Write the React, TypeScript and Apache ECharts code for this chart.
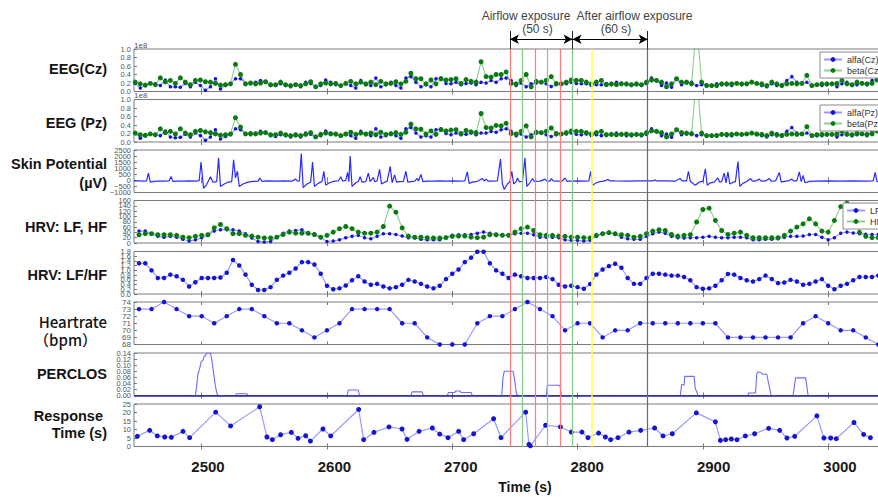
import React, { useEffect, useRef } from "react";
import * as echarts from "echarts";

// ---------- axis range ----------
const X_MIN = 2446;
const X_MAX = 3052;
const X_TICKS = [2500, 2600, 2700, 2800, 2900, 3000];

// ---------- EEG (sampled every 4 s from 2447 s) ----------
const EEG_T0 = 2447;
const EEG_DT = 4;
const czAlfa = [
  0.19, 0.08, 0.14, 0.19, 0.18, 0.14, 0.27, 0.11, 0.11, 0.1,
  0.19, 0.11, 0.22, 0.14, 0.03, 0.11, 0.3, 0.06, 0.14, 0.18,
  0.3, 0.3, 0.19, 0.18, 0.22, 0.26, 0.22, 0.14, 0.14, 0.18,
  0.14, 0.11, 0.16, 0.11, 0.22, 0.19, 0.11, 0.14, 0.27, 0.22,
  0.16, 0.14, 0.18, 0.14, 0.08, 0.26, 0.16, 0.14, 0.32, 0.11,
  0.16, 0.22, 0.14, 0.08, 0.32, 0.35, 0.22, 0.11, 0.16, 0.11,
  0.3, 0.32,
  0.19, 0.18, 0.22, 0.16, 0.19, 0.2, 0.16, 0.22, 0.2, 0.26,
  0.22, 0.3, 0.32, 0.26, 0.14, 0.2, 0.11, 0.18, 0.2, 0.22,
  0.18, 0.12, 0.16, 0.19, 0.18, 0.22, 0.19, 0.18, 0.18, 0.14,
  0.16, 0.16, 0.19, 0.16, 0.22, 0.2, 0.16, 0.14, 0.16, 0.14,
  0.19, 0.32, 0.26, 0.14, 0.2, 0.1, 0.3, 0.16, 0.2, 0.22,
  0.14, 0.16, 0.16, 0.14, 0.18, 0.16, 0.16, 0.14, 0.2, 0.16,
  0.19, 0.22, 0.18, 0.14, 0.11, 0.18, 0.14, 0.16, 0.26, 0.35,
  0.22, 0.19, 0.22, 0.14, 0.16, 0.14, 0.16, 0.19, 0.11, 0.18,
  0.22, 0.14, 0.16, 0.2, 0.16, 0.26, 0.3, 0.22, 0.18,
];
const czBeta = [
  0.22, 0.18, 0.15, 0.19, 0.16, 0.32, 0.23, 0.26, 0.19, 0.32,
  0.22, 0.16, 0.26, 0.27, 0.23, 0.22, 0.19, 0.15, 0.16, 0.18,
  0.64, 0.4, 0.18, 0.2, 0.18, 0.2, 0.23, 0.16, 0.16, 0.22,
  0.16, 0.14, 0.16, 0.14, 0.18, 0.23, 0.11, 0.18, 0.2, 0.18,
  0.19, 0.14, 0.19, 0.24, 0.18, 0.22, 0.18, 0.22, 0.16, 0.24,
  0.18, 0.19, 0.23, 0.18, 0.24, 0.43, 0.3, 0.3, 0.18, 0.27,
  0.18, 0.3,
  0.27, 0.28, 0.3, 0.19, 0.28, 0.24, 0.22, 0.7, 0.35, 0.34,
  0.4, 0.4, 0.46, 0.19, 0.18, 0.26, 0.4, 0.11, 0.24, 0.22,
  0.26, 0.35, 0.19, 0.18, 0.22, 0.27, 0.26, 0.26, 0.22, 0.18,
  0.22, 0.26, 0.16, 0.18, 0.16, 0.18, 0.18, 0.16, 0.18, 0.16,
  0.22, 0.27, 0.26, 0.22, 0.11, 0.18, 0.3, 0.22, 0.22, 0.18,
  1.6, 0.22, 0.14, 0.14, 0.14, 0.18, 0.18, 0.18, 0.19, 0.18,
  0.18, 0.22, 0.19, 0.18, 0.14, 0.22, 0.18, 0.14, 0.18, 0.19,
  0.18, 0.19, 0.38, 0.14, 0.16, 0.18, 0.18, 0.18, 0.19, 0.26,
  0.18, 0.16, 0.22, 0.19, 0.18, 0.19, 0.27, 0.2, 0.18,
];
const pzAlfa = [
  0.2, 0.09, 0.14, 0.18, 0.17, 0.15, 0.26, 0.12, 0.1, 0.11,
  0.18, 0.12, 0.21, 0.15, 0.04, 0.12, 0.29, 0.07, 0.13, 0.17,
  0.31, 0.29, 0.2, 0.17, 0.21, 0.25, 0.23, 0.15, 0.13, 0.17,
  0.15, 0.12, 0.15, 0.12, 0.21, 0.18, 0.12, 0.15, 0.26, 0.21,
  0.17, 0.15, 0.17, 0.15, 0.09, 0.25, 0.17, 0.15, 0.31, 0.12,
  0.15, 0.21, 0.15, 0.09, 0.31, 0.34, 0.21, 0.12, 0.15, 0.12,
  0.29, 0.31,
  0.2, 0.17, 0.21, 0.17, 0.18, 0.21, 0.17, 0.21, 0.21, 0.25,
  0.23, 0.29, 0.31, 0.25, 0.15, 0.19, 0.12, 0.17, 0.21, 0.21,
  0.17, 0.13, 0.17, 0.18, 0.19, 0.21, 0.18, 0.17, 0.19, 0.15,
  0.17, 0.15, 0.18, 0.17, 0.21, 0.19, 0.15, 0.15, 0.17, 0.15,
  0.18, 0.31, 0.25, 0.15, 0.19, 0.11, 0.29, 0.17, 0.19, 0.21,
  0.15, 0.17, 0.15, 0.15, 0.17, 0.17, 0.15, 0.15, 0.19, 0.17,
  0.18, 0.21, 0.17, 0.15, 0.12, 0.17, 0.15, 0.17, 0.25, 0.34,
  0.21, 0.18, 0.21, 0.15, 0.15, 0.15, 0.17, 0.18, 0.12, 0.17,
  0.21, 0.15, 0.17, 0.19, 0.15, 0.25, 0.29, 0.21, 0.17,
];
const pzBeta = [
  0.21, 0.17, 0.16, 0.19, 0.17, 0.31, 0.22, 0.25, 0.19, 0.31,
  0.21, 0.17, 0.25, 0.27, 0.24, 0.22, 0.19, 0.16, 0.17, 0.19,
  0.57, 0.35, 0.19, 0.2, 0.19, 0.21, 0.22, 0.17, 0.17, 0.21,
  0.17, 0.15, 0.17, 0.15, 0.18, 0.22, 0.12, 0.18, 0.21, 0.19,
  0.19, 0.15, 0.19, 0.23, 0.18, 0.21, 0.19, 0.21, 0.17, 0.23,
  0.18, 0.19, 0.22, 0.18, 0.23, 0.42, 0.31, 0.3, 0.19, 0.26,
  0.18, 0.29,
  0.26, 0.28, 0.29, 0.2, 0.27, 0.24, 0.22, 0.67, 0.34, 0.33,
  0.39, 0.38, 0.44, 0.2, 0.19, 0.25, 0.38, 0.12, 0.23, 0.22,
  0.25, 0.33, 0.2, 0.19, 0.22, 0.26, 0.25, 0.25, 0.22, 0.19,
  0.22, 0.25, 0.17, 0.18, 0.17, 0.18, 0.19, 0.17, 0.18, 0.17,
  0.22, 0.26, 0.25, 0.22, 0.12, 0.19, 0.29, 0.22, 0.21, 0.19,
  1.55, 0.21, 0.15, 0.15, 0.15, 0.18, 0.18, 0.18, 0.19, 0.18,
  0.19, 0.21, 0.19, 0.18, 0.15, 0.21, 0.18, 0.15, 0.18, 0.19,
  0.18, 0.19, 0.36, 0.15, 0.17, 0.18, 0.18, 0.18, 0.19, 0.25,
  0.18, 0.17, 0.21, 0.19, 0.18, 0.19, 0.26, 0.2, 0.18,
];

// ---------- Skin potential (µV) [time, value] ----------
const skinPotential: [number, number][] = [
  [2446, -50], [2450, -40], [2454, -60], [2456, -40], [2457.5, 600], [2459, -150], [2462, -80], [2466, -70],
  [2470, -60], [2474, -50], [2475.5, 320], [2477, -80], [2480, -60], [2485, -70], [2490, -50], [2495, -60],
  [2498, -30], [2499.5, 1500], [2501.5, -650], [2504, -350], [2507, 300], [2509, -150], [2512, -100],
  [2513.5, 1850], [2515, -500], [2518, -300], [2521, -150], [2524, -100], [2525.5, 1700], [2527, 200],
  [2528.5, 750], [2530, -500], [2533, -300], [2537, -150], [2541, -80], [2545, -60], [2546.5, 200],
  [2548, -80], [2550, -60], [2553, -50], [2560, -60], [2566, -50], [2572, -70], [2575, 100], [2576.5, -60],
  [2578, -50], [2579.5, 2200], [2581, -600], [2584, -300], [2587, -150], [2588.5, 1500], [2590, -500],
  [2593, -250], [2596, -100], [2597.5, 750], [2599, -400], [2602, -200], [2606, -60], [2609, -50],
  [2611, 300], [2612.5, -50], [2615, 0], [2616.5, 650], [2617.5, -100], [2618.5, 2000], [2620, -500],
  [2623, -200], [2625, -100], [2626.5, 300], [2628, -150], [2631, -100], [2633, 600], [2634.5, -100],
  [2637, 250], [2638, -100], [2640, -50], [2642, 900], [2643.5, -300], [2646, -150], [2648, -80],
  [2650.5, 1150], [2652, -200], [2654, 450], [2655.5, -150], [2658, -100], [2661, -80], [2663, 750],
  [2664.5, -150], [2667, -100], [2670, -60], [2672, 150], [2673, -60], [2675, 480], [2676.5, -100],
  [2680, -60], [2685, -60], [2690, -50], [2695, -60], [2700, -50], [2705, -60], [2710, -50], [2712, 700],
  [2713.5, -250], [2716, -150], [2720, -80], [2724, 150], [2725.5, -50], [2727, 100], [2728.5, -60],
  [2732, -60], [2736, -50], [2738.5, 1750], [2740, -300], [2741.5, -750], [2744, -300], [2746, -100],
  [2747.5, 750], [2749, -300], [2751, -100], [2752, 200], [2753.5, -100], [2756, -80], [2758, 1850],
  [2759.5, -500], [2762, -200], [2764, 150], [2765.5, -80], [2770, -60], [2774, 100], [2775.5, -60],
  [2778, -60], [2779, 150], [2780.5, -50], [2784, -60], [2788, -50], [2790, 200], [2791.5, -80],
  [2795, -60], [2800, -50], [2805, -60], [2809, -40], [2810.5, 750], [2812, -400], [2815, -200],
  [2818, -100], [2822, -50], [2824, 80], [2826, -40], [2830, -50], [2840, -60], [2850, -50], [2860, -50],
  [2862, 40], [2863, -50], [2870, -50], [2878, -60], [2882, 150], [2883.5, -50], [2887, -40],
  [2888.5, 750], [2890, -100], [2894, -400], [2897, -150], [2900, -80], [2902, 950], [2903.5, -400],
  [2906, -200], [2909, -150], [2912, 200], [2913.5, -150], [2915, -100], [2917, 600], [2918.5, -200],
  [2920, 700], [2921.5, -300], [2924, -150], [2926, -100], [2928, 1550], [2929.5, -500], [2932, -250],
  [2935, -100], [2938, 150], [2939.5, -60], [2942, -60], [2945, 100], [2946.5, -60], [2950, -50],
  [2953, 150], [2954.5, -60], [2958, -50], [2961, 650], [2962.5, -150], [2965, -80], [2968, -50],
  [2971, 100], [2972.5, -50], [2975, -40], [2977, 700], [2978.5, -100], [2980, 400], [2981.5, -200],
  [2985, -80], [2990, -60], [3000, -50], [3010, -60], [3020, -50], [3030, -60], [3036, -40],
  [3037.5, 650], [3039, -100], [3045, -60], [3050, -50],
];

// ---------- HRV (every 5 s from 2450 s) ----------
const HRV_T0 = 2450;
const HRV_DT = 5;
const hrvLF = [
  45, 45, 35, 25, 22, 25, 22, 14, 7.5, 12,
  20, 29, 45, 50, 50, 50, 45, 35, 19, 6,
  4, 6, 22, 37, 45, 47, 50, 35, 31, 20,
  6, 7.5, 12, 20, 25, 29, 20, 16, 25, 35,
  35, 32, 26, 20, 19, 14, 12, 12, 12,
  22, 29, 31, 31, 32, 37, 41, 37, 32, 31,
  29, 35, 37, 37, 31, 22, 22, 22, 20, 12,
  10, 10, 7.5, 10, 25, 35, 39, 32, 22, 16,
  14, 14, 25, 35, 41, 37, 25, 20, 19, 20,
  20, 22, 25, 22, 20, 20, 22, 22, 20, 12,
  12, 14, 14, 16, 22, 25, 25, 26, 32, 32,
  22, 12, 20, 37, 41, 38, 35, 33, 32, 32,
  32,
];
const hrvHF = [
  31, 35, 35, 31, 31, 31, 29, 22, 20, 25,
  29, 31, 57, 70, 54, 35, 35, 29, 26, 22,
  19, 19, 22, 32, 41, 37, 37, 37, 32, 22,
  29, 41, 54, 62, 54, 41, 37, 37, 41, 62,
  139, 116, 57, 26, 22, 22, 20, 19, 19,
  20, 25, 26, 26, 22, 20, 22, 31, 31, 29,
  29, 41, 54, 60, 47, 31, 29, 29, 26, 25,
  22, 22, 20, 19, 29, 35, 39, 35, 31, 29,
  22, 25, 35, 45, 50, 47, 32, 26, 29, 31,
  79, 126, 131, 85, 47, 32, 37, 41, 29, 20,
  20, 20, 20, 20, 29, 45, 60, 72, 91, 72,
  45, 41, 85, 137, 150, 110, 40, 25, 20, 20,
  20,
];
const hrvRatio = [
  1.3, 1.3, 1.0, 0.68, 0.68, 0.82, 0.75, 0.6, 0.32, 0.5,
  0.68, 0.68, 0.68, 0.7, 0.9, 1.44, 1.21, 0.82, 0.39, 0.17,
  0.17, 0.29, 0.6, 0.78, 0.9, 1.08, 1.35, 1.35, 1.25, 0.86,
  0.35, 0.2, 0.24, 0.36, 0.58, 0.75, 0.53, 0.39, 0.43, 0.32,
  0.24, 0.29, 0.39, 0.6, 0.53, 0.43, 0.32, 0.24, 0.35,
  0.63, 0.86, 1.04, 1.35, 1.54, 1.79, 1.79, 1.3, 1.0, 0.86,
  0.68, 0.82, 0.75, 0.68, 0.68, 0.68, 0.72, 0.63, 0.39, 0.32,
  0.35, 0.29, 0.22, 0.42, 0.82, 1.04, 1.18, 1.28, 1.11, 0.68,
  0.43, 0.43, 0.68, 0.86, 0.86, 0.82, 0.78, 0.78, 0.72, 0.58,
  0.29, 0.22, 0.24, 0.35, 0.58, 0.85, 0.82, 0.68, 0.58, 0.53,
  0.63, 0.78, 0.63, 0.46, 0.49, 0.6, 0.53, 0.39, 0.43, 0.53,
  0.63, 0.35, 0.2, 0.35, 0.43, 0.58, 0.72, 0.72, 0.72, 0.78,
  0.78,
];

// ---------- Heart rate (every 10 s from 2450 s) ----------
const HR_T0 = 2450;
const HR_DT = 10;
const heartRate = [
  73, 73, 74, 73, 72, 72, 71, 72, 73, 73,
  72, 71, 71, 70, 69, 70, 71, 73, 73, 73,
  73, 71, 71, 69, 68,
  68, 68, 71, 72, 72, 73, 74, 73, 72, 70,
  71, 71, 69, 70, 70, 71, 71, 71, 71, 71,
  71, 71, 69, 69, 69, 69, 69, 69, 71, 72,
  71, 70, 70, 69, 68,
];

// ---------- PERCLOS [time, value] ----------
const perclos: [number, number][] = [
  [2446, 0], [2495, 0], [2496, 0.03], [2497, 0.07], [2498.5, 0.09], [2499.5, 0.11], [2501, 0.115],
  [2502, 0.13], [2503, 0.13], [2504, 0.14], [2507, 0.14], [2508, 0.12], [2509, 0.09], [2510, 0.06],
  [2511, 0.03], [2512, 0.01], [2513, 0], [2527, 0], [2528, 0.006], [2536, 0.006], [2537, 0],
  [2616, 0], [2617, 0.018], [2625, 0.018], [2626, 0], [2667, 0], [2668, 0.012], [2676, 0.012],
  [2677, 0], [2696, 0], [2697, 0.01], [2702, 0.01], [2703, 0.015], [2706, 0.015], [2707, 0.01],
  [2715, 0.01], [2716, 0], [2739.5, 0], [2740.5, 0.06], [2741.5, 0.08], [2748.5, 0.08],
  [2749.5, 0.06], [2751, 0.01], [2752, 0], [2775, 0], [2776, 0.034], [2786, 0.034], [2787, 0],
  [2882, 0], [2883, 0.035], [2885, 0.035], [2885.5, 0.063], [2893, 0.063], [2894, 0.02],
  [2895, 0.015], [2896, 0], [2936, 0], [2936.5, 0.008], [2942, 0.008], [2943, 0.07], [2944, 0.078],
  [2946, 0.076], [2948, 0.07], [2951, 0.07], [2953, 0.03], [2954.5, 0], [2972, 0], [2973, 0.03],
  [2974, 0.058], [2982, 0.058], [2983, 0.03], [2984, 0], [3052, 0],
];

// ---------- Response time (s) [time, value] ----------
const responseTime: [number, number][] = [
  [2448.7, 6], [2458.5, 9.5], [2464.6, 6.2], [2470.5, 5.6], [2475.8, 5.4], [2485.1, 8.9], [2490.4, 5.2],
  [2511.2, 20.2], [2523.1, 12.1], [2546.3, 23.4], [2552.1, 5.6], [2556.4, 4], [2563, 6.9], [2571.6, 8.3],
  [2576.9, 4.8], [2583, 6.3], [2586.8, 3.2], [2596.8, 10.3], [2603, 6.2], [2625.3, 21.8], [2629.3, 4],
  [2637.5, 8.3], [2649.5, 11.5], [2659.9, 10.3], [2663.9, 4.2], [2673.5, 8.9], [2684.1, 10.9],
  [2690, 7.3], [2696.6, 5.2], [2705.1, 8.9], [2709.1, 4], [2717.1, 7.5], [2733, 16.3], [2738.9, 5.2],
  [2758.6, 20.2], [2761.2, 1.2], [2762.3, 0.4], [2774.5, 12.5], [2786.3, 11.5], [2795, 8.5],
  [2803.5, 8.5], [2808.3, 5.2], [2816.8, 7.9], [2822.2, 5.6], [2826.4, 4], [2832.3, 5.2], [2841, 8.5],
  [2850.4, 9.5], [2861.5, 10.9], [2868.2, 6.2], [2875.6, 7.5], [2894.8, 19.8], [2910, 14.5], [2914, 3.6],
  [2918.2, 4], [2922.7, 4.4], [2927.2, 4], [2933.9, 6.2], [2941.3, 7.5], [2952.5, 10.7], [2961.3, 9.5],
  [2967.1, 5], [2973.3, 6], [2991, 18], [2996.6, 5], [3002, 5], [3006.5, 4.6], [3020.6, 14.1],
  [3028.3, 7.1], [3033.7, 5.2],
];

// ---------- event markers ----------
const eventTimes = [2746, 2756, 2766, 2776, 2786, 2796, 2811, 2856];
const eventKinds = ["red", "green", "red", "green", "red", "green", "yellow", "grey"];
const phaseBounds = [2746, 2796, 2856];

const panelLabels = [
  "EEG(Cz)", "EEG (Pz)", "Skin Potential", "(µV)", "HRV: LF, HF", "HRV: LF/HF",
  "Heartrate", "（bpm）", "PERCLOS", "Response", "Time (s)",
];

const toSeries = (t0: number, dt: number, vals: number[]) => vals.map((v, i) => [t0 + dt * i, v]);

export default function App() {
  const ref = useRef<HTMLDivElement>(null);

  useEffect(() => {
    if (!ref.current) return;
    const chart = echarts.init(ref.current, null, { renderer: "svg" });

    const TOPS = [49, 99.5, 150, 200.5, 251.5, 302, 353, 404];
    const H = 42.5;
    const LEFT = 134;
    const PX = 1.253;
    const WIDTH = (X_MAX - X_MIN) * PX;
    const FONT = "Liberation Sans";

    const grids: any[] = TOPS.map((t) => ({
      left: LEFT, top: t, width: WIDTH, height: H, show: true,
      borderColor: "#7a7a7a", borderWidth: 1, backgroundColor: "transparent",
      outerBoundsMode: "none", containLabel: false,
    }));
    grids.push({ left: LEFT, top: 49, width: WIDTH, height: 398, show: false, outerBoundsMode: "none" });
    grids.push({ left: LEFT, top: 31, width: WIDTH, height: 18, show: false, outerBoundsMode: "none" });
    const LPX = 1.264;
    grids.push({ left: 208 - 100 * LPX, top: 438, width: 700 * LPX, height: 10, show: false, outerBoundsMode: "none" });

    const xAxes: any[] = [];
    TOPS.forEach((_, i) => {
      ["bottom", "top"].forEach((pos) => {
        xAxes.push({
          type: "value", gridIndex: i, position: pos, min: X_MIN, max: X_MAX, splitNumber: 6,
          axisLine: { show: false },
          axisTick: { show: true, inside: true, length: 3, lineStyle: { color: "#777" }, customValues: X_TICKS },
          axisLabel: { show: false },
          splitLine: { show: false },
        });
      });
    });
    xAxes.push({ type: "value", gridIndex: 8, min: X_MIN, max: X_MAX, show: false });
    xAxes.push({ type: "value", gridIndex: 9, min: X_MIN, max: X_MAX, show: false });
    xAxes.push({
      type: "value", gridIndex: 10, min: 2400, max: 3100, interval: 100,
      axisLine: { show: false }, axisTick: { show: false }, splitLine: { show: false },
      axisLabel: {
        margin: 11, fontSize: 15, fontWeight: "bold", color: "#1a1a1a", fontFamily: FONT,
        formatter: (v: number) => (v >= 2500 && v <= 3000 ? String(v) : ""),
      },
    });

    const minus = (v: number) => (v < 0 ? "\u2212" + String(-v) : String(v));
    const yCfg: any[] = [
      { min: 0, max: 1, interval: 0.2, f: (v: number) => v.toFixed(1), name: "1e8" },
      { min: 0, max: 1, interval: 0.2, f: (v: number) => v.toFixed(1), name: "1e8" },
      { min: -1000, max: 2500, interval: 500, f: minus },
      { min: 0, max: 160, interval: 20, f: (v: number) => String(Math.round(v)) },
      { min: 0, max: 1.8, interval: 0.2, f: (v: number) => v.toFixed(1) },
      { min: 68, max: 74, interval: 1, f: (v: number) => String(Math.round(v)) },
      { min: 0, max: 0.14, interval: 0.02, f: (v: number) => v.toFixed(2) },
      { min: 0, max: 25, interval: 5, f: (v: number) => String(Math.round(v)) },
    ];
    // labels are split over two coincident left axes (even / odd ticks) so none is auto-hidden
    const makeY = (c: any, i: number, parity: number) => ({
      type: "value", gridIndex: i, position: "left", offset: 0,
      min: c.min, max: c.max, interval: c.interval,
      name: parity === 0 ? c.name || "" : "", nameLocation: "end", nameGap: 1,
      nameTextStyle: { fontSize: 8, color: "#555", align: "left", fontFamily: FONT, padding: [0, 0, -1, 0] },
      axisLine: { show: false },
      axisTick: { show: parity === 0, inside: true, length: 3, lineStyle: { color: "#777" } },
      axisLabel: {
        fontSize: i === 5 ? 8 : 7.5, color: "#555", margin: 3, fontFamily: FONT,
        formatter: (v: number) => {
          const k = Math.round((v - c.min) / c.interval);
          return k % 2 === parity ? c.f(v) : "";
        },
        showMinLabel: true, showMaxLabel: true, hideOverlap: false,
      },
      splitLine: { show: false },
    });
    const yAxes: any[] = yCfg.map((c, i) => makeY(c, i, 0));
    yAxes.push({ type: "value", gridIndex: 8, min: 0, max: 1, show: false });
    yAxes.push({ type: "value", gridIndex: 9, min: 0, max: 1, show: false });
    yAxes.push({ type: "value", gridIndex: 10, min: 0, max: 1, show: false });
    yCfg.forEach((c, i) => yAxes.push(makeY(c, i, 1)));

    const blueLine = "rgba(70,70,255,0.55)";
    const blueDot = "#1414d2";
    const greenLine = "rgba(40,160,40,0.5)";
    const greenDot = "#0b7a12";

    const dotSeries = (name: string, idx: number, data: any[], kind: "blue" | "green", size: number) => ({
      name, type: "line", xAxisIndex: idx * 2, yAxisIndex: idx, data, z: 3,
      symbol: "circle", symbolSize: size, showSymbol: true,
      lineStyle: { color: kind === "blue" ? blueLine : greenLine, width: 1.2 },
      itemStyle: { color: kind === "blue" ? blueDot : greenDot, borderWidth: 0 },
      emphasis: { disabled: true }, clip: true,
    });

    const series: any[] = [
      dotSeries("alfa(Cz)", 0, toSeries(EEG_T0, EEG_DT, czAlfa), "blue", 3.5),
      dotSeries("beta(Cz)", 0, toSeries(EEG_T0, EEG_DT, czBeta), "green", 5),
      dotSeries("alfa(Pz)", 1, toSeries(EEG_T0, EEG_DT, pzAlfa), "blue", 3.5),
      dotSeries("beta(Pz)", 1, toSeries(EEG_T0, EEG_DT, pzBeta), "green", 5),
      {
        name: "skin", type: "line", xAxisIndex: 4, yAxisIndex: 2, data: skinPotential, z: 3,
        showSymbol: false, symbol: "none", lineStyle: { color: "#2b2bff", width: 1.2 }, clip: true,
      },
      dotSeries("LF", 3, toSeries(HRV_T0, HRV_DT, hrvLF), "blue", 3.5),
      dotSeries("HF", 3, toSeries(HRV_T0, HRV_DT, hrvHF), "green", 5),
      dotSeries("LF/HF", 4, toSeries(HRV_T0, HRV_DT, hrvRatio), "blue", 4.5),
      dotSeries("Heartrate", 5, toSeries(HR_T0, HR_DT, heartRate), "blue", 4.5),
      {
        name: "PERCLOS", type: "line", xAxisIndex: 12, yAxisIndex: 6, data: perclos, z: 3,
        showSymbol: false, symbol: "none", lineStyle: { color: "#6b6bff", width: 1.1 }, clip: true,
        markLine: {
          silent: true, symbol: "none", label: { show: false },
          lineStyle: { color: "#25259a", width: 1.6, type: "solid" },
          data: [{ yAxis: 0 }],
        },
      },
      dotSeries("Response", 7, responseTime, "blue", 5),
    ];

    const lineColor: Record<string, string> = {
      red: "#ff7a7a", green: "#86c886", yellow: "#ffff55", grey: "#6a6a6a",
    };
    series.push({
      name: "events", type: "line", xAxisIndex: 16, yAxisIndex: 8, data: [[X_MIN, -1]],
      showSymbol: false, symbol: "none", lineStyle: { opacity: 0 }, z: 1, silent: true,
      markLine: {
        silent: true, symbol: "none", label: { show: false }, animation: false,
        lineStyle: { type: "solid" },
        data: eventTimes.map((t, i) => ({
          xAxis: t,
          lineStyle: { color: lineColor[eventKinds[i]], width: eventKinds[i] === "yellow" ? 1.6 : 1.2, type: "solid" },
        })),
      },
    });
    series.push({
      name: "phases", type: "line", xAxisIndex: 17, yAxisIndex: 9, data: [[X_MIN, -1]],
      showSymbol: false, symbol: "none", lineStyle: { opacity: 0 }, z: 2, silent: true,
      markLine: {
        silent: true, symbol: ["none", "none"], label: { show: false }, animation: false,
        lineStyle: { type: "solid", color: "#000", width: 1 },
        data: [
          ...phaseBounds.map((t) => ({ xAxis: t, lineStyle: { color: "#222", width: 1, type: "solid" } })),
          [
            { coord: [phaseBounds[0], 0.54], symbol: "arrow", symbolSize: [7, 9] },
            { coord: [phaseBounds[1], 0.54], symbol: "arrow", symbolSize: [7, 9] },
          ],
          [
            { coord: [phaseBounds[1], 0.54], symbol: "arrow", symbolSize: [7, 9] },
            { coord: [phaseBounds[2], 0.54], symbol: "arrow", symbolSize: [7, 9] },
          ],
        ],
      },
    });
    series.push({
      name: "labels", type: "line", xAxisIndex: 18, yAxisIndex: 10, data: [[2400, -1]],
      showSymbol: false, symbol: "none", lineStyle: { opacity: 0 }, silent: true,
    });

    const legendBase = {
      orient: "vertical", itemWidth: 18, itemHeight: 6, itemGap: 2, padding: [3, 4, 3, 3],
      textStyle: { fontSize: 9, color: "#333", fontFamily: FONT },
      borderColor: "#8a8a8a", borderWidth: 1, backgroundColor: "#fff", selectedMode: false, z: 10,
    };
    const legend = [
      { ...legendBase, data: ["alfa(Cz)", "beta(Cz)"], left: 820, top: 52 },
      { ...legendBase, data: ["alfa(Pz)", "beta(Pz)"], left: 820, top: 105 },
      { ...legendBase, data: ["LF", "HF"], left: 843, top: 203 },
    ];

    const txt = (text: string, x: number, y: number, font: string, align: string, fill = "#141414") => ({
      type: "text", z: 20, silent: true,
      style: {
        text, x, y, font, fill,
        align, verticalAlign: "middle", textAlign: align, textVerticalAlign: "middle",
      },
    });
    const bold = `bold 14.5px "${FONT}"`;
    const graphic = [
      txt(panelLabels[0], 107, 69, bold, "right"),
      txt(panelLabels[1], 107, 123, bold, "right"),
      txt(panelLabels[2], 107, 164, bold, "right"),
      txt(panelLabels[3], 107, 183, bold, "right"),
      txt(panelLabels[4], 107, 227, bold, "right"),
      txt(panelLabels[5], 107, 275, bold, "right"),
      txt(panelLabels[6], 107, 321, `500 15px "Noto Sans CJK JP"`, "right"),
      txt(panelLabels[7], 34, 339, `500 15px "Noto Sans CJK JP"`, "left"),
      txt(panelLabels[8], 107, 374, bold, "right"),
      txt(panelLabels[9], 103, 416, bold, "right"),
      txt(panelLabels[10], 107, 433, bold, "right"),
      txt("Time (s)", 525, 487, `bold 14px "${FONT}"`, "center"),
      txt("Airflow exposure", 526, 15.5, `12px "${FONT}"`, "center", "#444"),
      txt("(50 s)", 537.5, 29, `12px "${FONT}"`, "center", "#444"),
      txt("After airflow exposure", 634.5, 15.5, `12px "${FONT}"`, "center", "#444"),
      txt("(60 s)", 616, 29, `12px "${FONT}"`, "center", "#444"),
    ];

    chart.setOption({
      animation: false,
      backgroundColor: "#fff",
      grid: grids,
      xAxis: xAxes,
      yAxis: yAxes,
      legend,
      series,
      graphic,
    });

    return () => chart.dispose();
  }, []);

  return (
    <div
      ref={ref}
      style={{ position: "fixed", left: 0, top: 0, width: 878, height: 497, background: "#fff" }}
    />
  );
}
